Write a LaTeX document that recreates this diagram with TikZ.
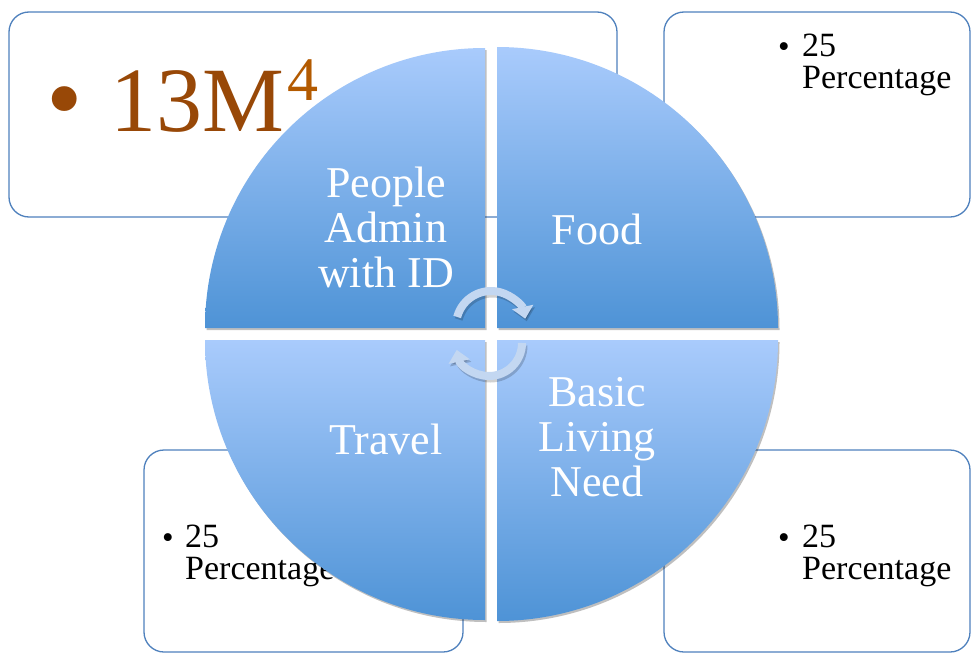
\documentclass[tikz,border=0pt]{standalone}
\usepackage{fontspec}
\setmainfont{Liberation Serif}
\usetikzlibrary{shadows,arrows.meta}
\definecolor{boxc}{HTML}{4F81BD}
\definecolor{qtop}{HTML}{A9CBFC}
\definecolor{qbot}{HTML}{4E93D6}
\definecolor{brownc}{HTML}{984807}
\definecolor{supc}{HTML}{B35A00}
\definecolor{arrc}{HTML}{C3D7F1}
\tikzset{
  box/.style={draw=boxc, line width=1.3pt, rounded corners=20pt, fill=white},
  quad/.style={shading=axis, top color=qtop, bottom color=qbot, shading angle=0,
    drop shadow={shadow xshift=1.5pt, shadow yshift=-2pt, opacity=0.25, fill=black}},
  qlabel/.style={text=white, inner sep=0pt, align=center, font=\fontsize{44}{45}\selectfont},
  blabel/.style={text=black, inner sep=0pt, align=left, font=\fontsize{34}{32}\selectfont},
  bul/.style={text=black, inner sep=0pt, font=\fontsize{33}{32}\selectfont},
  cyc/.style={draw=arrc, line width=8pt, -{Triangle[width=21pt,length=12pt]}},
  cycshadow/.style={draw=black, opacity=0.18, line width=8pt, -{Triangle[width=21pt,length=12pt]}},
}
\begin{document}
\begin{tikzpicture}[x=1pt,y=-1pt]
\useasboundingbox (0,0) rectangle (971,653);
% boxes
\path[box] (9,12) rectangle (617,217);
\path[box] (664,12) rectangle (970,217);
\path[box] (144,450) rectangle (463,652);
\path[box] (664,450) rectangle (970,652);
% box texts
\node[text=brownc, inner sep=0pt, font=\fontsize{104}{104}\selectfont, anchor=base] (b1) at (65,133) {•};
\node[text=brownc, inner sep=0pt, font=\fontsize{92}{92}\selectfont, anchor=base west] (t1) at (110,131)
  {13M\raisebox{31pt}{\fontsize{62}{62}\selectfont\color{supc}\kern3pt 4}};
\node[bul, anchor=base] (b2) at (784,57) {•};
\node[blabel, anchor=north west] (t2) at (802,34) {25\\Percentage};
\node[bul, anchor=base] (b3) at (168,548) {•};
\node[blabel, anchor=north west] (t3) at (185,525) {25\\Percentage};
\node[bul, anchor=base] (b4) at (784,548) {•};
\node[blabel, anchor=north west] (t4) at (802,525) {25\\Percentage};
% quadrants
\path[quad] (485,328) -- (205,328) arc[start angle=180, end angle=270, radius=280] -- cycle;
\path[quad] (497,328) -- (497,47) arc[start angle=270, end angle=360, radius=281] -- cycle;
\path[quad] (485,340) -- (205,340) arc[start angle=180, end angle=90, radius=280] -- cycle;
\path[quad] (497,340) -- (497,621) arc[start angle=90, end angle=0, radius=281] -- cycle;
% quadrant labels
\node[qlabel, anchor=north] (q1) at (386,167) {People\\Admin\\with ID};
\node[qlabel, anchor=base] (q2) at (597,244) {Food};
\node[qlabel, anchor=base] (q3) at (386,454) {Travel};
\node[qlabel, anchor=north] (q4) at (597,377) {Basic\\Living\\Need};
% cycle arrows
\coordinate (c1) at (491,326);
\coordinate (c2) at (489,343);
\coordinate (s1) at (492.5,328.5);
\coordinate (s2) at (490.5,345.5);
\draw[cycshadow] (s1) ++(195:35) arc[start angle=195, end angle=348, radius=35];
\draw[cycshadow] (s2) ++(0:33) arc[start angle=0, end angle=168, radius=33];
\draw[cyc] (c1) ++(195:35) arc[start angle=195, end angle=348, radius=35];
\draw[cyc] (c2) ++(0:33) arc[start angle=0, end angle=168, radius=33];
\end{tikzpicture}
\end{document}
